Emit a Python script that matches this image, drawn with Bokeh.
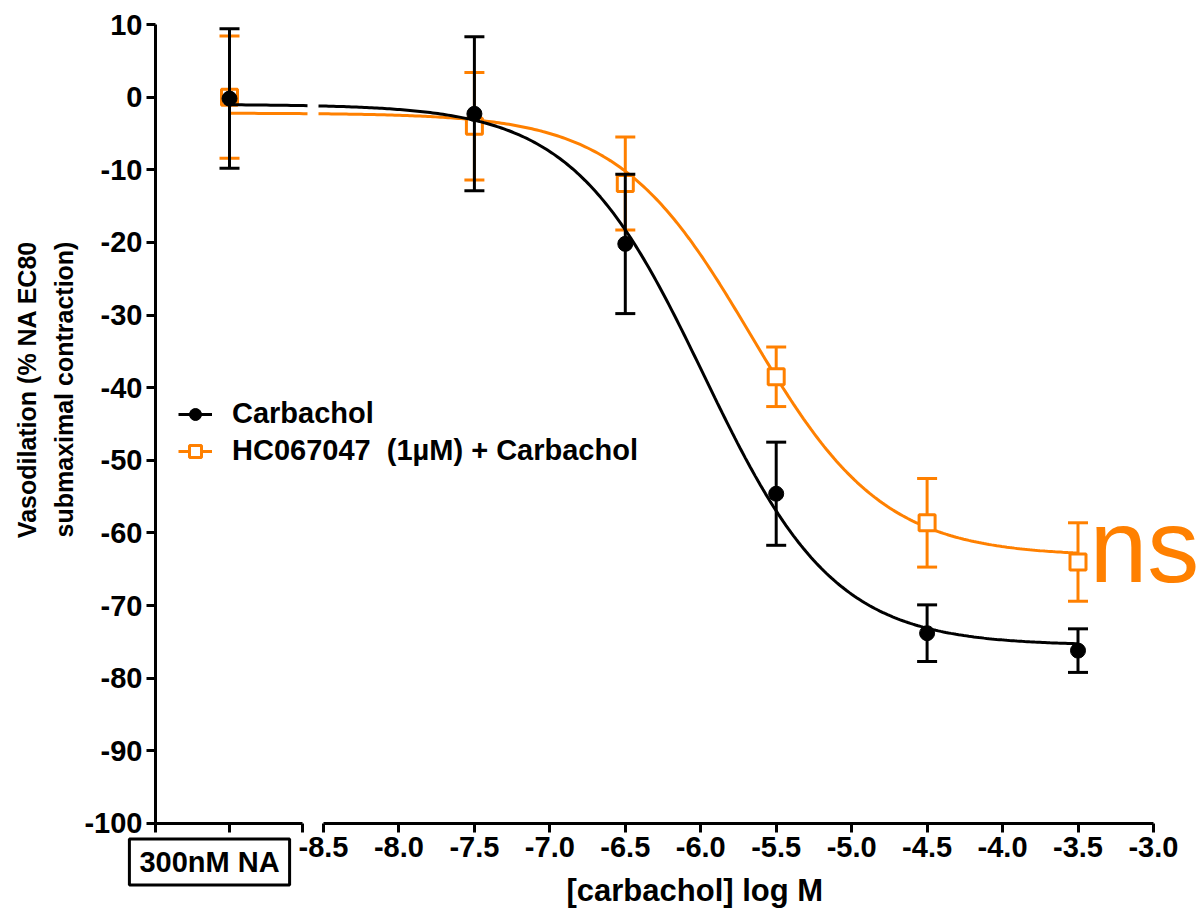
import numpy as np
from bokeh.plotting import figure
from bokeh.models import (Range1d, FixedTicker, NumeralTickFormatter, Label,
                          Legend, LegendItem)
from bokeh.embed import file_html
from bokeh.resources import INLINE

# ---------------- data ----------------
dose_logM = [-7.5, -6.5, -5.5, -4.5, -3.5]
na_label = "300nM NA"

carb_na_mean = -0.2
carb_na_sem = 9.6
carb_mean = [-2.3, -20.2, -54.6, -73.8, -76.2]
carb_sem = [10.6, 9.6, 7.1, 3.9, 3.0]

hc_na_mean = 0.0
hc_na_sem = 8.4
hc_mean = [-4.0, -11.9, -38.5, -58.6, -64.0]
hc_sem = [7.4, 6.4, 4.1, 6.1, 5.4]

# sigmoidal (Hill) fit parameters
carb_top, carb_bottom, carb_logec50, carb_hill = -1.0, -75.5, -5.98, 1.0
hc_top, hc_bottom, hc_logec50, hc_hill = -2.2, -63.2, -5.67, 0.99

y_ticks = [-100, -90, -80, -70, -60, -50, -40, -30, -20, -10, 0, 10]
x_ticks = [-8.5, -8.0, -7.5, -7.0, -6.5, -6.0, -5.5, -5.0, -4.5, -4.0, -3.5, -3.0]

series_names = ["Carbachol", "HC067047  (1\u00b5M) + Carbachol"]
ns_text = "ns"
x_title = "[carbachol] log M"
y_title_lines = ["Vasodilation (% NA EC80", "submaximal contraction)"]

# ---------------- layout geometry (pixels of the 1202x908 picture) ----------------
W, H = 1202, 908
PX = 150.9                      # pixels per log unit (x)
PY = 7.2636                     # pixels per % unit (y)
MID = 0.3465                    # baseline offset below a "middle" anchor, in em


def xd(px):                      # picture x pixel -> data x
    return -8.5 + (px - 323) / PX


def yd(py):                      # picture y pixel -> data y
    return 10 - (py - 24) / PY


x_start = xd(155)                # start of the left (NA) axis segment
left_end = xd(302)               # end of the left segment (axis break)
na_x = xd(229)                   # position of the NA point

BLACK = "#000000"
ORANGE = "#FF8000"
FONT = "Liberation Sans"


def hill(x, top, bottom, logec50, h):
    x = np.asarray(x, dtype=float)
    return bottom + (top - bottom) / (1.0 + 10 ** (h * (x - logec50)))


p = figure(frame_width=W, frame_height=H,
           x_range=Range1d(xd(0), xd(W)), y_range=Range1d(yd(H), yd(0)),
           output_backend="svg", toolbar_location=None, min_border=0)
p.outline_line_color = None
p.xgrid.visible = False
p.ygrid.visible = False
p.background_fill_color = "white"
p.border_fill_color = "white"

# ---------------- axes (crossing at the corner of the data area) ----------------
xa = p.xaxis[0]
xa.fixed_location = -100
xa.ticker = FixedTicker(ticks=x_ticks, minor_ticks=[x_start, na_x, left_end])
xa.formatter = NumeralTickFormatter(format="0.0")
xa.bounds = (x_start, -3.0)
xa.axis_line_width = 3
xa.axis_line_dash = "147 21 2000"
xa.major_tick_line_width = 3
xa.minor_tick_line_width = 3
xa.major_tick_out = 9
xa.major_tick_in = 0
xa.minor_tick_out = 9
xa.minor_tick_in = 0
xa.major_label_text_font = FONT
xa.major_label_text_font_style = "bold"
xa.major_label_text_font_size = "29px"
xa.major_label_text_color = BLACK
xa.major_label_standoff = 5

ya = p.yaxis[0]
ya.fixed_location = x_start
ya.ticker = FixedTicker(ticks=y_ticks)
ya.formatter = NumeralTickFormatter(format="0")
ya.bounds = (-100, 10)
ya.axis_line_width = 3
ya.major_tick_line_width = 3
ya.major_tick_out = 9
ya.major_tick_in = 0
ya.minor_tick_out = 0
ya.minor_tick_in = 0
ya.major_label_text_font = FONT
ya.major_label_text_font_style = "bold"
ya.major_label_text_font_size = "29px"
ya.major_label_text_color = BLACK
ya.major_label_standoff = 4


def draw_series(mean, sem, na_mean, na_sem, fit, color, marker):
    xs = [na_x] + dose_logM
    ys = [na_mean] + mean
    es = [na_sem] + sem
    lo = [y - e for y, e in zip(ys, es)]
    hi = [y + e for y, e in zip(ys, es)]
    top, bottom, ec50, h = fit
    xl = np.linspace(na_x, xd(307), 20)
    xr = np.linspace(xd(318), dose_logM[-1], 300)
    p.line(xl, hill(xl, top, bottom, ec50, h), line_color=color, line_width=3)
    line_r = p.line(xr, hill(xr, top, bottom, ec50, h), line_color=color, line_width=3)
    p.segment(xs, lo, xs, hi, line_color=color, line_width=3)
    p.scatter(xs, lo, marker="dash", size=20, line_color=color, line_width=3)
    p.scatter(xs, hi, marker="dash", size=20, line_color=color, line_width=3)
    if marker == "square":
        pts = p.scatter(xs, ys, marker="square", size=16, line_color=color,
                        line_width=3, fill_color="white")
    else:
        pts = p.scatter(xs, ys, marker="circle", size=15, line_color=color,
                        line_width=1, fill_color=color)
    return line_r, pts


hc_line, hc_pts = draw_series(hc_mean, hc_sem, hc_na_mean, hc_na_sem,
                              (hc_top, hc_bottom, hc_logec50, hc_hill), ORANGE, "square")
carb_line, carb_pts = draw_series(carb_mean, carb_sem, carb_na_mean, carb_na_sem,
                                  (carb_top, carb_bottom, carb_logec50, carb_hill), BLACK, "circle")

# ---------------- legend ----------------
legend = Legend(items=[LegendItem(label=series_names[0], renderers=[carb_line, carb_pts]),
                       LegendItem(label=series_names[1], renderers=[hc_line, hc_pts])],
                location=(178, 441), border_line_color=None, background_fill_alpha=0,
                glyph_width=34, glyph_height=30, label_standoff=20, padding=0, margin=0,
                spacing=4, label_text_font=FONT, label_text_font_style="bold",
                label_text_font_size="29px", label_text_color=BLACK)
p.add_layout(legend)

# ---------------- texts ----------------
ns_size = 104
p.add_layout(Label(x=xd(1089), y=yd(582 - MID * ns_size), text=ns_text, text_color=ORANGE,
                   text_font=FONT, text_font_size=f"{ns_size}px",
                   text_align="left", text_baseline="middle"))

p.add_layout(Label(x=xd(209), y=yd(861.5), text=na_label,
                   text_font=FONT, text_font_style="bold", text_font_size="29px",
                   text_align="center", text_baseline="middle", text_color=BLACK,
                   border_line_color=BLACK, border_line_width=3,
                   background_fill_color="white", padding=(10, 7)))

xt_size = 31
p.add_layout(Label(x=xd(566), y=yd(901 - MID * xt_size), text=x_title,
                   text_font=FONT, text_font_style="bold", text_font_size=f"{xt_size}px",
                   text_align="left", text_baseline="middle", text_color=BLACK))

for px_x, line_text in zip([26, 63], y_title_lines):
    p.add_layout(Label(x=xd(px_x), y=yd(389), text=line_text, angle=np.pi / 2,
                       text_font=FONT, text_font_style="bold", text_font_size="25px",
                       text_align="center", text_baseline="middle", text_color=BLACK))

open("out.html", "w").write(file_html(p, INLINE))
